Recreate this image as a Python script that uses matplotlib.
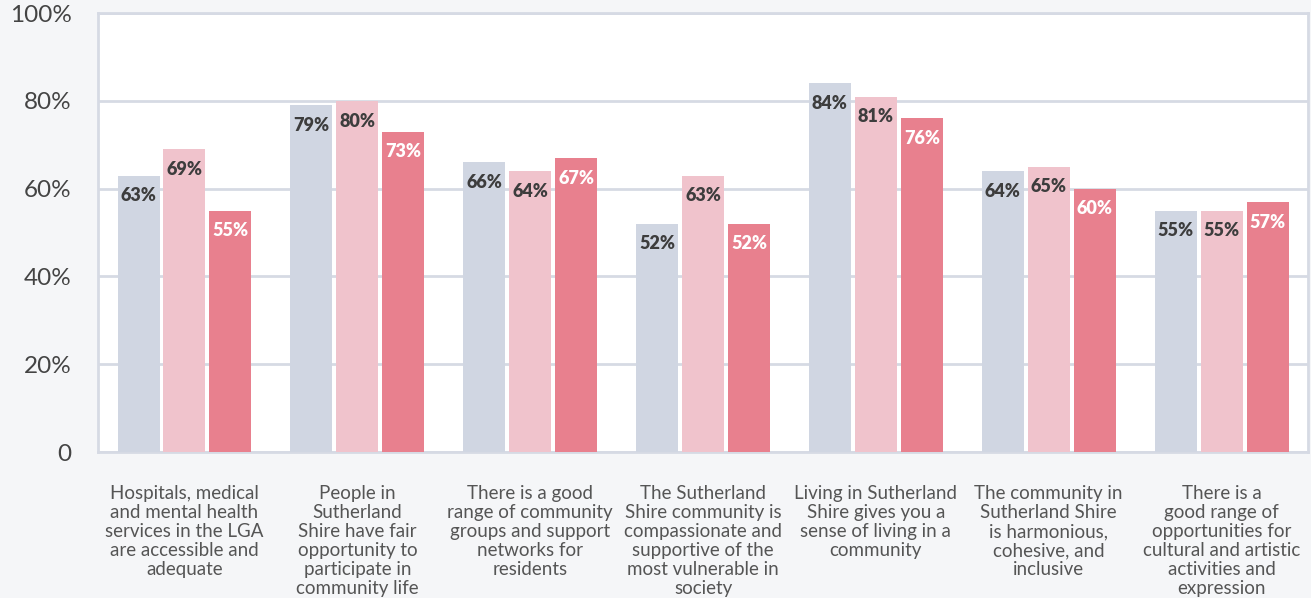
import matplotlib
matplotlib.use("Agg")
import matplotlib.pyplot as plt
import numpy as np

categories = [
    "Hospitals, medical\nand mental health\nservices in the LGA\nare accessible and\nadequate",
    "People in\nSutherland\nShire have fair\nopportunity to\nparticipate in\ncommunity life",
    "There is a good\nrange of community\ngroups and support\nnetworks for\nresidents",
    "The Sutherland\nShire community is\ncompassionate and\nsupportive of the\nmost vulnerable in\nsociety",
    "Living in Sutherland\nShire gives you a\nsense of living in a\ncommunity",
    "The community in\nSutherland Shire\nis harmonious,\ncohesive, and\ninclusive",
    "There is a\ngood range of\nopportunities for\ncultural and artistic\nactivities and\nexpression",
]
series_a = [63, 79, 66, 52, 84, 64, 55]
series_b = [69, 80, 64, 63, 81, 65, 55]
series_c = [55, 73, 67, 52, 76, 60, 57]
y_ticks = [0, 20, 40, 60, 80, 100]
y_tick_labels = ["0", "20%", "40%", "60%", "80%", "100%"]

colors = ["#D0D6E2", "#F0C3CC", "#E8808E"]
label_colors = ["#3D3D3D", "#3D3D3D", "#FFFFFF"]
frame_color = "#D6DAE4"

plt.rcParams["font.family"] = ["Lato", "DejaVu Sans"]

fig = plt.figure(figsize=(13.11, 5.98), dpi=100, facecolor="#F5F6F8")
ax = fig.add_axes([0.0748, 0.2441, 0.9229, 0.7339])
ax.set_facecolor("white")

x = np.arange(len(categories))
width = 0.243
offset = 0.266
for i, (vals, col, lcol) in enumerate(zip([series_a, series_b, series_c], colors, label_colors)):
    pos = x + (i - 1) * offset
    bars = ax.bar(pos, vals, width=width, color=col, zorder=3)
    for b, v in zip(bars, vals):
        ax.annotate(f"{v}%", (b.get_x() + b.get_width() / 2, v),
                    xytext=(0, -14.5), textcoords="offset points",
                    ha="center", va="center", fontsize=13, fontweight="heavy",
                    color=lcol, zorder=4)

ax.set_xlim(-0.5, len(categories) - 0.5)
ax.set_ylim(0, 100)
ax.set_yticks(y_ticks)
ax.set_yticklabels(y_tick_labels, fontsize=17.5, color="#444444")
ax.set_xticks(x)
ax.set_xticklabels(categories, fontsize=13.5, color="#555555", linespacing=1.14)
ax.tick_params(axis="y", length=0, pad=19)
ax.tick_params(axis="x", length=0, pad=24)
ax.yaxis.grid(True, color=frame_color, linewidth=2, zorder=1)
for s in ax.spines.values():
    s.set_color(frame_color)
    s.set_linewidth(2)

fig.savefig("out.png", dpi=100, facecolor=fig.get_facecolor())
